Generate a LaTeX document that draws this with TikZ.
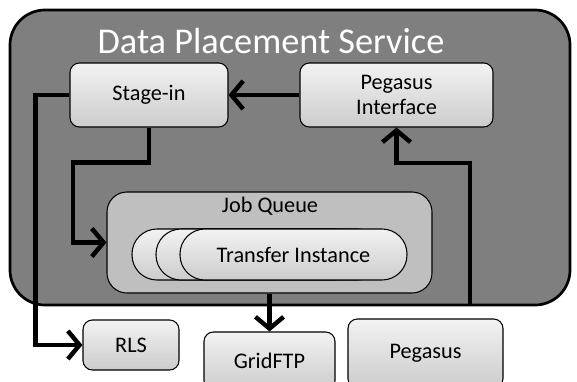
\documentclass[tikz,border=0pt]{standalone}
\usepackage{fontspec}
\setmainfont{Carlito}
\usetikzlibrary{arrows.meta}
\definecolor{dpsgray}{HTML}{7F7F7F}
\definecolor{jqgray}{HTML}{BFBFBF}
\begin{document}
\begin{tikzpicture}[x=0.03cm, y=-0.03cm,
  box/.style={draw, line width=0.9pt, rounded corners=8pt, top color=white!95!black, bottom color=black!20,
    font=\fontsize{19}{22}\selectfont, align=center, inner sep=0pt},
  pill/.style={box, rounded corners=0.75cm, minimum width=6.81cm, minimum height=1.53cm},
  conn/.style={line width=3.8pt},
  >={Straight Barb[length=10pt,width=24pt]}]
\useasboundingbox (0,0) rectangle (577,381);

\node[draw, line width=2.3pt, fill=dpsgray, rounded corners=1.05cm, minimum width=16.8cm, minimum height=8.85cm] (dps) at (290,157.5) {};
\node[text=white, font=\fontsize{31}{35}\selectfont] (title) at (271,41) {Data Placement Service};

\node[box, minimum width=4.74cm, minimum height=1.92cm] (stage) at (149,95) {Stage-in};
\node[box, minimum width=5.79cm, minimum height=1.92cm] (pegif) at (396.5,95) {Pegasus\\Interface};

\node[draw, line width=0.9pt, fill=jqgray, rounded corners=0.6cm, minimum width=9.75cm, minimum height=3.03cm] (jobq) at (269.5,242.5) {};
\node[font=\fontsize{19}{22}\selectfont] (jqtitle) at (270,206) {Job Queue};
\node[pill] (ti3) at (245.5,254.5) {};
\node[pill] (ti2) at (269.5,254.5) {};
\node[pill] (ti1) at (293.5,254.5) {Transfer Instance};

\node[box, minimum width=2.88cm, minimum height=1.5cm] (rls) at (131,345) {RLS};
\node[box, minimum width=3.93cm, minimum height=1.74cm] (grid) at (269.5,361) {GridFTP};
\node[box, minimum width=4.65cm, minimum height=2.07cm] (pegasus) at (425.5,353.5) {Pegasus};
\coordinate (tap) at (470,305);

\draw[conn,->] (pegif) -- (stage);
\draw[conn,->] (stage.west) -- ++(-34,0) |- (rls.west);
\draw[conn,->] (stage.south) -- ++(0,35) -- ++(-76,0) |- (jobq.west);
\draw[conn,->] (jobq.south) -- (grid.north);
\draw[conn,->] (tap) -- ++(0,-142) -| (pegif.south);
\end{tikzpicture}
\end{document}
